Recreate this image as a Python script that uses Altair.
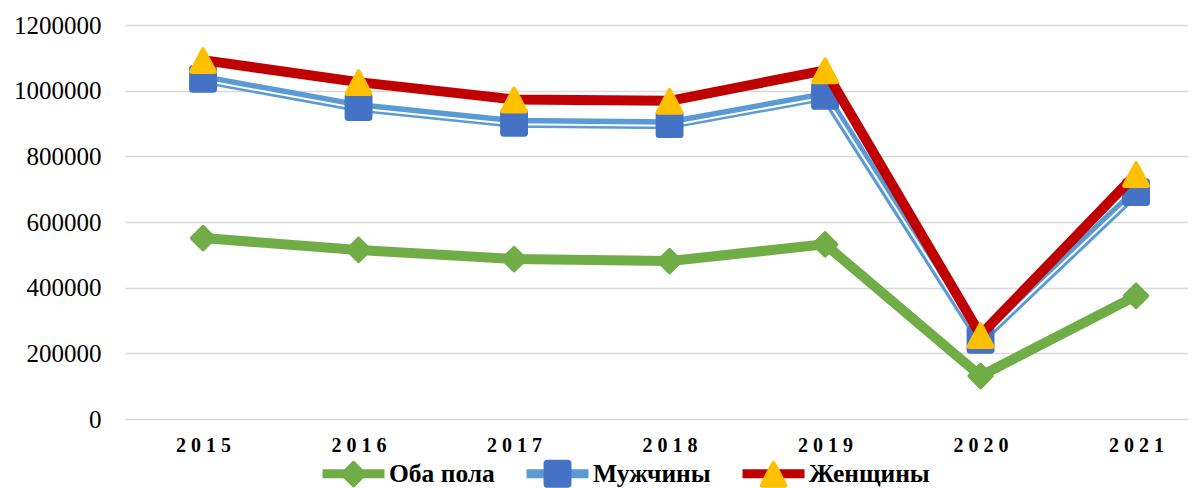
import altair as alt
import pandas as pd

years = [2015, 2016, 2017, 2018, 2019, 2020, 2021]
series_names = ["Оба пола", "Мужчины", "Женщины"]
both = [551000, 515000, 487000, 481000, 532000, 131000, 375000]
men = [1036000, 950000, 902000, 898000, 984000, 241000, 691000]
women = [1093000, 1026000, 973000, 969000, 1062000, 256000, 746000]
y_ticks = [0, 200000, 400000, 600000, 800000, 1000000, 1200000]

line_colors = ["#70AD47", "#5B9BD5", "#C00000"]
marker_colors = ["#70AD47", "#4472C4", "#FFC000"]

rows = []
for name, vals in zip(series_names, [both, men, women]):
    for yr, v in zip(years, vals):
        rows.append({"year": yr, "value": v, "series": name, "series2": name})
df = pd.DataFrame(rows)

EXT = "M-1,0 L1,0 "
diamond = EXT + ("M-0.05,-0.40 Q0,-0.46 0.05,-0.40 L0.40,-0.05 Q0.46,0 0.40,0.05 "
                 "L0.05,0.40 Q0,0.46 -0.05,0.40 L-0.40,0.05 Q-0.46,0 -0.40,-0.05 Z")
square = EXT + ("M-0.33,-0.45 L0.33,-0.45 Q0.45,-0.45 0.45,-0.33 L0.45,0.33 "
                "Q0.45,0.45 0.33,0.45 L-0.33,0.45 Q-0.45,0.45 -0.45,0.33 "
                "L-0.45,-0.33 Q-0.45,-0.45 -0.33,-0.45 Z")
triangle = EXT + ("M-0.07,-0.36 Q0,-0.48 0.07,-0.36 L0.43,0.32 Q0.49,0.45 0.35,0.45 "
                  "L-0.35,0.45 Q-0.49,0.45 -0.43,0.32 Z")

FONT = "Liberation Serif"
SYM = 3844
LX, LY = 193, 413
LEG_FS = 25.5

leg_line = alt.Legend(orient="none", legendX=LX, legendY=LY, direction="horizontal",
                      title=None, symbolType="stroke", symbolSize=SYM, symbolStrokeWidth=9,
                      labelFont=FONT, labelFontSize=LEG_FS, labelFontWeight="bold",
                      labelColor="black", labelOffset=0, columnPadding=13, padding=0,
                      zindex=1)
leg_pt = alt.Legend(orient="none", legendX=LX, legendY=LY, direction="horizontal",
                    title=None, symbolSize=SYM, symbolStrokeWidth=9,
                    symbolStrokeColor="transparent", symbolOpacity=1,
                    labelFont=FONT, labelFontSize=LEG_FS, labelFontWeight="bold",
                    labelColor="transparent", labelOffset=0, columnPadding=13, padding=0,
                    zindex=2)

x_enc = alt.X("year:Q",
              scale=alt.Scale(domain=[2014.498, 2021.334], nice=False, zero=False),
              axis=alt.Axis(values=years, format="d",
                            labelExpr="join(split(datum.label, ''), ' ')",
                            grid=False, domain=False, ticks=False,
                            labelFont=FONT, labelFontSize=20, labelFontWeight="bold",
                            labelColor="black", labelPadding=16, labelFlush=False,
                            title=None))
y_enc = alt.Y("value:Q",
              scale=alt.Scale(domain=[0, 1200000], nice=False),
              axis=alt.Axis(values=y_ticks, format="d", grid=True,
                            gridColor="#D9D9D9", gridWidth=1.5,
                            domain=False, ticks=False,
                            labelFont=FONT, labelFontSize=25, labelColor="black",
                            labelPadding=24, title=None))

color_enc = alt.Color("series:N", scale=alt.Scale(domain=series_names, range=line_colors),
                      legend=leg_line)
# data-driven domain (descending: Оба пола, Мужчины, Женщины) keeps this legend separate
fill_enc = alt.Fill("series2:N", sort="descending",
                    scale=alt.Scale(range=marker_colors), legend=leg_pt)
shape_enc = alt.Shape("series2:N", sort="descending",
                      scale=alt.Scale(range=[diamond, square, triangle]), legend=leg_pt)

base = alt.Chart(df)
layers = []
for name in series_names:
    sub = base.transform_filter(alt.datum.series == name)
    layers.append(sub.mark_line(strokeWidth=10, strokeJoin="round", strokeCap="butt")
                  .encode(x=x_enc, y=y_enc, color=color_enc, order="year:Q"))
    if name == "Мужчины":
        layers.append(sub.mark_line(strokeWidth=2, color="white", yOffset=1.5)
                      .encode(x=x_enc, y=y_enc, order="year:Q"))
    layers.append(sub.mark_point(filled=True, size=SYM, opacity=1, strokeWidth=0)
                  .encode(x=x_enc, y=y_enc, fill=fill_enc, shape=shape_enc))

chart = alt.layer(*layers).properties(
    width=1063, height=394,
    padding={"left": 117, "top": 17, "right": 0, "bottom": 69},
    autosize=alt.AutoSizeParams(type="none"),
    background="white",
).configure(font=FONT).configure_view(stroke=None)

chart.save("out.html", embed_options={"renderer": "svg", "actions": False})
